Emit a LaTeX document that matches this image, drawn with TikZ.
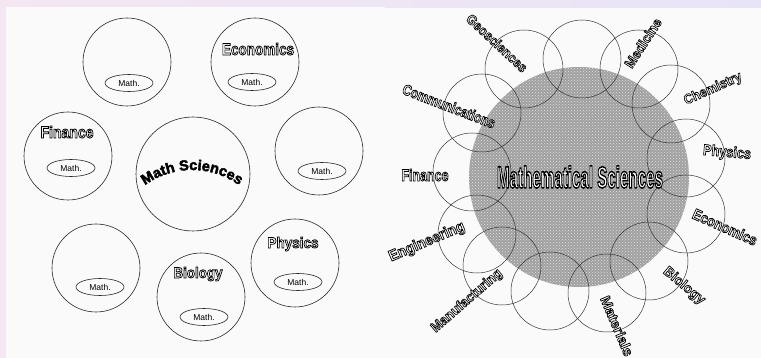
\documentclass[tikz,border=0pt]{standalone}
\usepackage{fontspec}
\setmainfont{Liberation Sans}
\newfontfamily\heavyfont{Liberation Sans}[BoldFeatures={FakeBold=3}]
\usetikzlibrary{shapes.geometric, patterns, decorations.text}

\definecolor{lavender}{RGB}{232,228,248}
\definecolor{blush}{RGB}{244,230,242}
\definecolor{paper}{RGB}{250,250,250}
\definecolor{coregray}{RGB}{160,160,160}

% outlined label: width, height, text
\newcommand{\olbl}[3]{\resizebox{#1pt}{#2pt}{\textcolor{white}{%
    \special{pdf:literal direct 0 G 2 Tr 0.5 w}#3\special{pdf:literal direct 0 Tr}}}}

\tikzset{
  bubble/.style={circle, draw=black!85, line width=0.6pt, minimum size=88pt, inner sep=0pt},
  bigbubble/.style={bubble, minimum size=114pt},
  mathbox/.style={ellipse, draw=black!85, line width=0.6pt, minimum width=48pt,
    minimum height=17pt, inner sep=0pt, font=\fontsize{8.5}{9}\selectfont},
  field/.style={inner sep=0pt, font=\bfseries},
  ring/.style={draw=black!80, line width=0.5pt}
}

\begin{document}
\begin{tikzpicture}[x=1pt, y=-1pt]
    \useasboundingbox (0,0) rectangle (761,358);

    % Background
    \shade[left color=blush, right color=lavender] (0,0) rectangle (761,358);
    \fill[paper] (6,7) rectangle (385,358);
    \fill[paper] (385,8) rectangle (761,358);

    % Left panel: circles
    \node[bubble] (c1) at (127,62) {};
    \node[bubble] (c2) at (255,62) {};
    \node[bubble] (c3) at (68,156) {};
    \node[bigbubble] (core) at (193,174) {};
    \node[bubble] (c5) at (319,151) {};
    \node[bubble] (c6) at (96,268) {};
    \node[bubble] (c7) at (201,297) {};
    \node[bubble] (c8) at (295,263) {};

    % Left panel: Math. ellipses
    \node[mathbox] (m1) at (129,83) {Math.};
    \node[mathbox] (m2) at (252,82) {Math.};
    \node[mathbox] (m3) at (71,168) {Math.};
    \node[mathbox] (m5) at (322,171) {Math.};
    \node[mathbox] (m6) at (100,287) {Math.};
    \node[mathbox] (m7) at (204,317) {Math.};
    \node[mathbox] (m8) at (298,282) {Math.};

    % Left panel: labels
    \node[field] (econ) at (258,49) {\olbl{72}{12}{Economics}};
    \node[field] (fin) at (67,132) {\olbl{53}{12}{Finance}};
    \node[field] (phys) at (293,244) {\olbl{51}{11}{Physics}};
    \node[field] (bio) at (198,274) {\olbl{49}{11}{Biology}};

    % Arc text
    \path[decorate, decoration={text along path, text align=center,
        text={|\heavyfont\bfseries\fontsize{14.5}{14.5}\selectfont|Math Sciences}}]
        (140.6,188.7) arc[start angle=-130, end angle=-50, radius=80];

    % Right panel: shaded core
    \coordinate (S) at (579,177);
    \fill[coregray] (S) circle (110);
    \fill[pattern=crosshatch dots, pattern color=white!70!coregray] (S) circle (110);

    % Right panel: ring of circles
    \draw[ring] (582,59) circle (39);
    \draw[ring] (639,69) circle (39);
    \draw[ring] (671,104) circle (39);
    \draw[ring] (686,158) circle (39);
    \draw[ring] (686,214) circle (39);
    \draw[ring] (649,261) circle (39);
    \draw[ring] (607,293) circle (39);
    \draw[ring] (550,291) circle (39);
    \draw[ring] (502,266) circle (39);
    \draw[ring] (477,234) circle (39);
    \draw[ring] (472,172) circle (39);
    \draw[ring] (482,113) circle (39);
    \draw[ring] (524,69) circle (39);

    % Right panel: labels
    \node[field] (title) at (580,177) {\olbl{166}{22}{Mathematical Sciences}};
    \node[field, rotate=-43] (geo) at (497,43) {\olbl{78}{10}{Geosciences}};
    \node[field, rotate=57] (med) at (643,43) {\olbl{56}{10}{Medicine}};
    \node[field, rotate=24] (chem) at (713,89) {\olbl{62}{10}{Chemistry}};
    \node[field, rotate=-5] (phy) at (727,153) {\olbl{48}{11}{Physics}};
    \node[field, rotate=-24] (eco) at (725,227) {\olbl{69}{11}{Economics}};
    \node[field, rotate=-40] (biol) at (684,286) {\olbl{50}{10}{Biology}};
    \node[field, rotate=-67] (mat) at (617,326) {\olbl{64}{10}{Materials}};
    \node[field, rotate=41] (manu) at (467,301) {\olbl{89}{10}{Manufacturing}};
    \node[field, rotate=23] (eng) at (427,242) {\olbl{81}{11}{Engineering}};
    \node[field] (finr) at (425,175) {\olbl{47}{12}{Finance}};
    \node[field, rotate=-21] (comm) at (449,106) {\olbl{98}{11}{Communications}};
\end{tikzpicture}
\end{document}
